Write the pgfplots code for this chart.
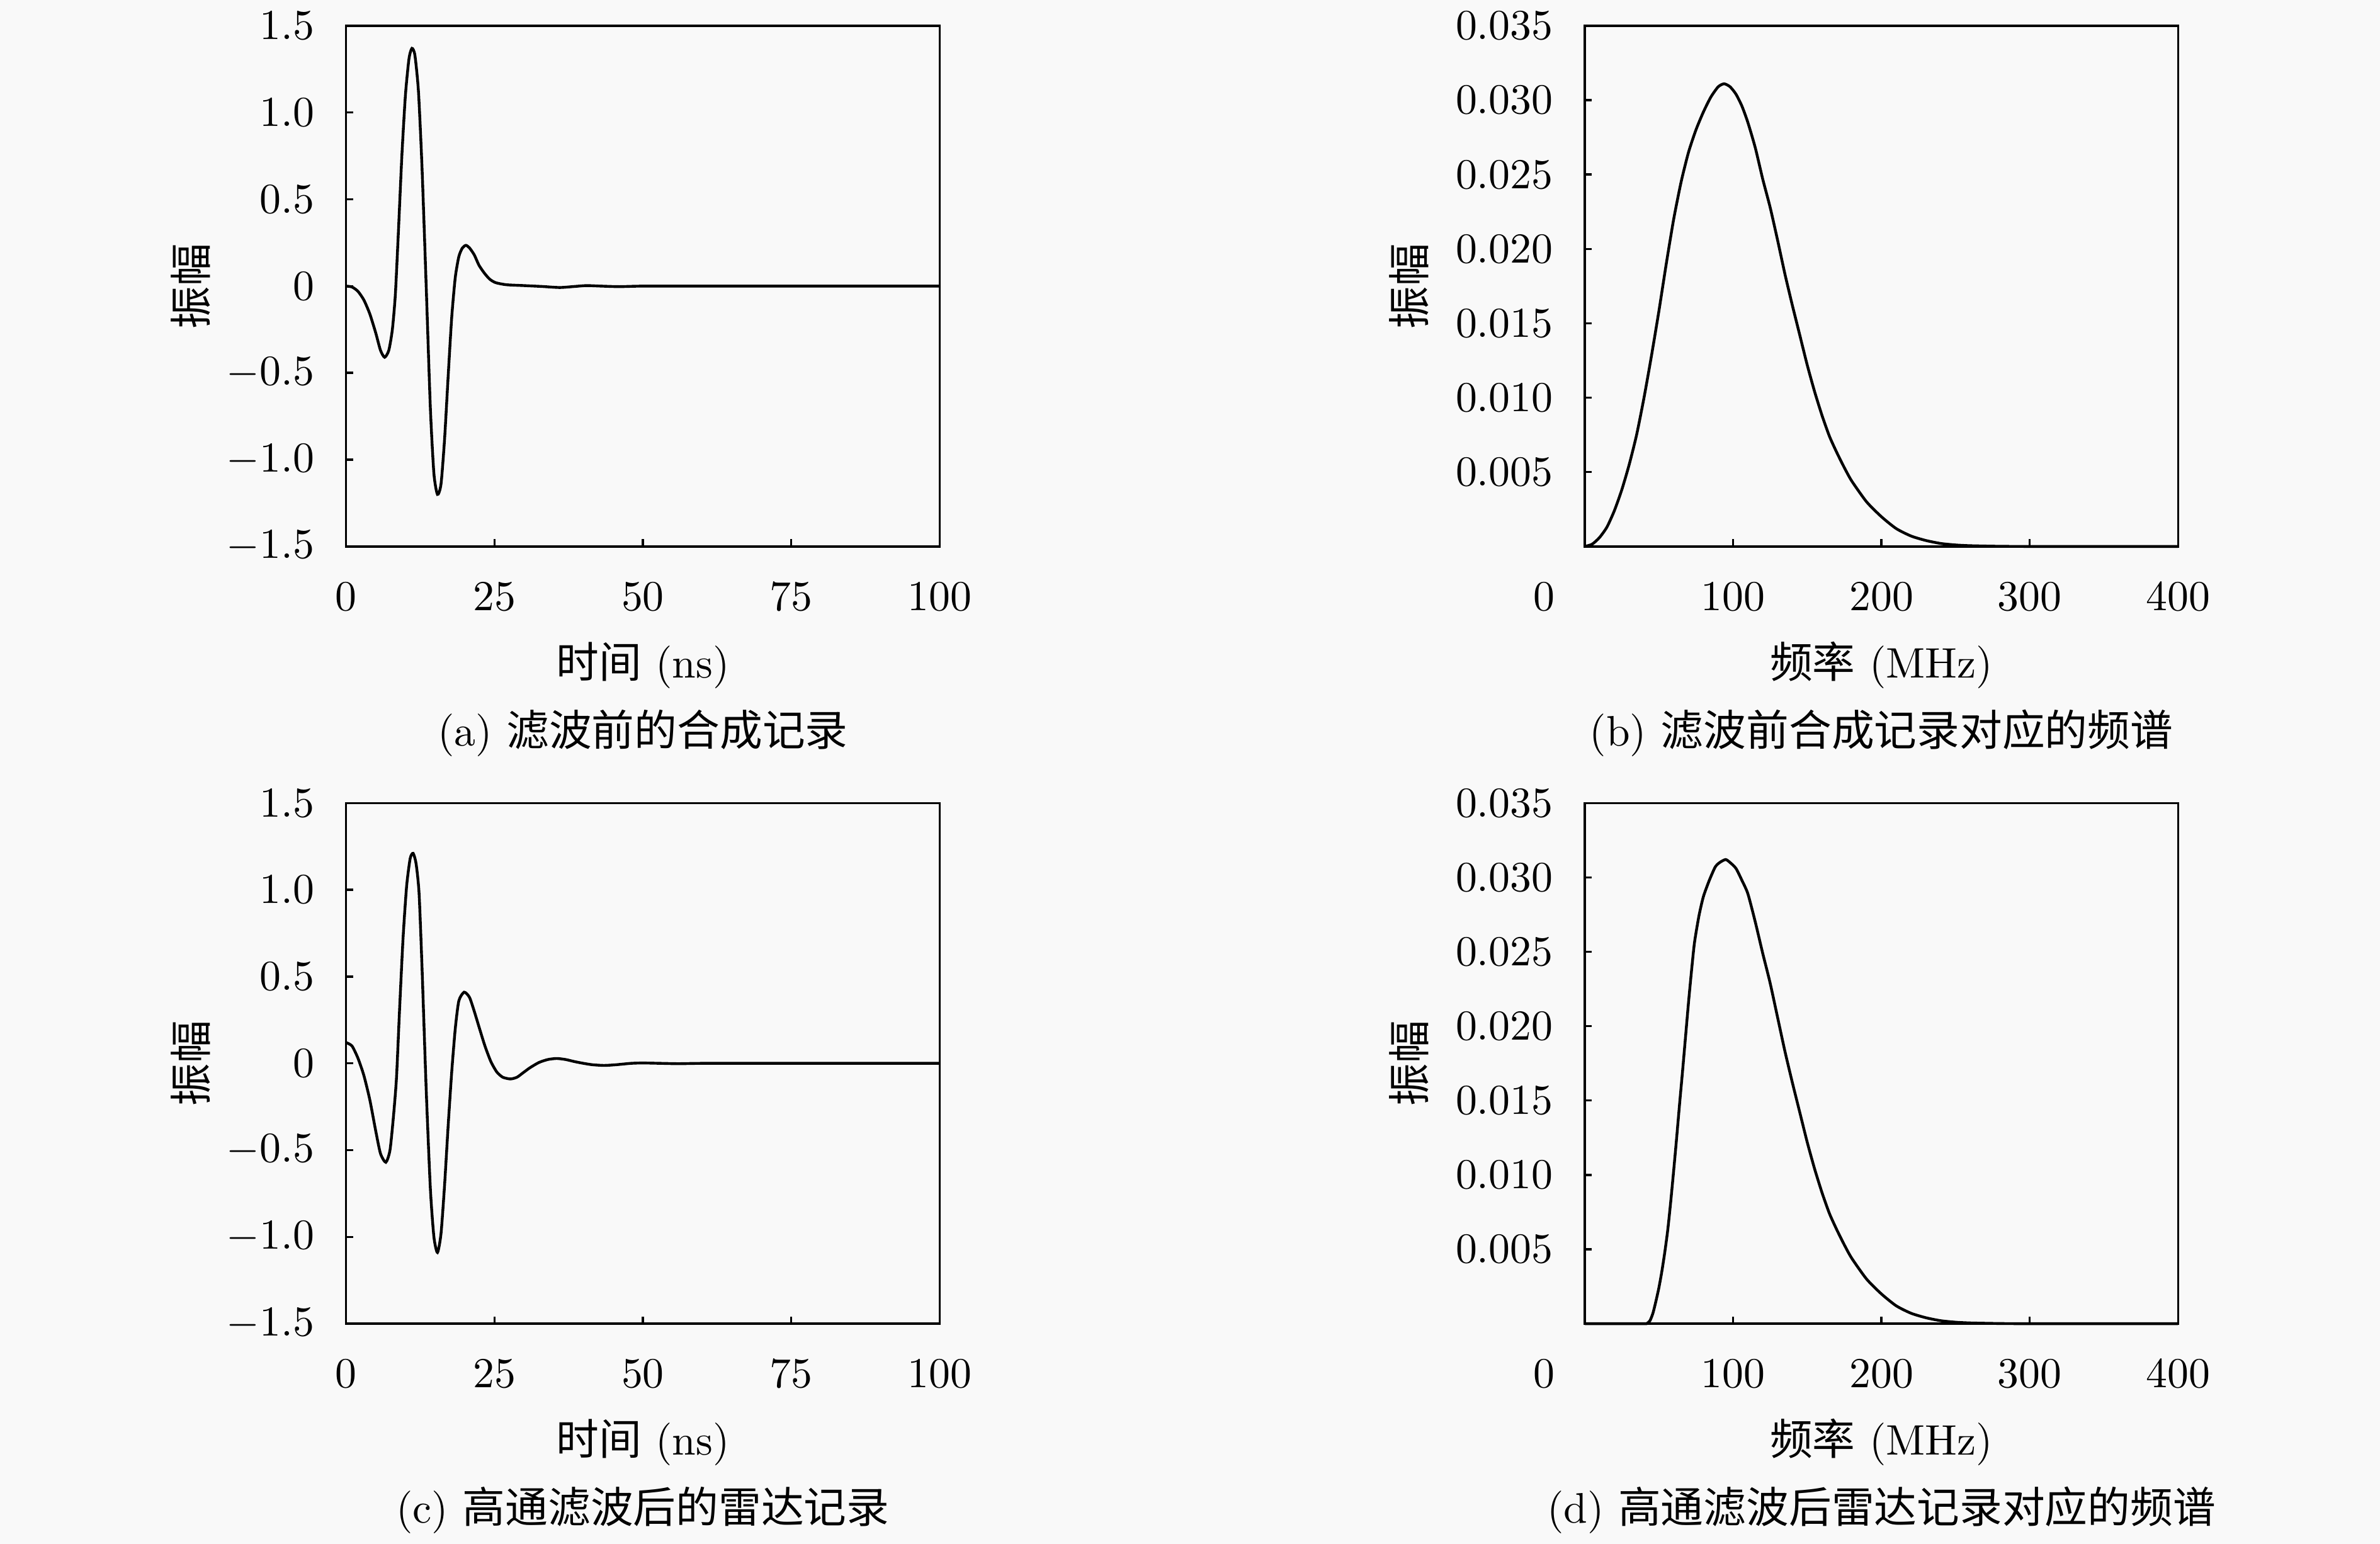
\documentclass[border=0pt]{standalone}
\usepackage{fontspec}
\usepackage{pgfplots}
\pgfplotsset{compat=1.18}
\newfontfamily\cjk{Noto Sans CJK SC}
\definecolor{bg}{RGB}{249,249,249}

\pgfplotsset{
  panel/.style={
    scale only axis, width=4.8875cm, height=4.2875cm,
    tick pos=left, tick align=inside, major tick length=1.7pt,
    axis line style={line width=0.5pt},
    every tick/.style={black, line width=0.5pt},
    clip=false,
    xticklabel style={yshift=-5pt},
    yticklabel style={xshift=-3.9pt},
    xlabel style={at={(axis description cs:0.5,-0.228)}, anchor=center},
    every axis plot post/.append style={black, line width=0.65pt, smooth, tension=0.4, mark=none},
  },
  timepanel/.style={panel,
    xmin=0, xmax=100, ymin=-1.5, ymax=1.5,
    xtick={0,25,50,75,100},
    ytick={-1.5,-1,-0.5,0,0.5,1,1.5},
    yticklabels={$-1.5$,$-1.0$,$-0.5$,$0$,$0.5$,$1.0$,$1.5$},
    xlabel={{\cjk 时间} (ns)}, ylabel={\cjk 振幅},
    ylabel style={at={(axis description cs:-0.262,0.5)}, anchor=center},
  },
  freqpanel/.style={panel,
    xmin=0, xmax=400, ymin=0, ymax=0.035,
    xtick={100,200,300,400},
    ytick={0.005,0.010,0.015,0.020,0.025,0.030,0.035},
    yticklabels={$0.005$,$0.010$,$0.015$,$0.020$,$0.025$,$0.030$,$0.035$},
    scaled y ticks=false,
    xlabel={{\cjk 频率} (MHz)}, ylabel={\cjk 振幅},
    ylabel style={at={(axis description cs:-0.2955,0.5)}, anchor=center},
  },
}

\begin{document}
\begin{tikzpicture}
\fill[bg] (0cm,0cm) rectangle (19.6cm,12.7125cm);

% (a) before filtering, time domain
\begin{axis}[timepanel, at={(2.85cm,8.2125cm)}, anchor=south west]
\addplot coordinates {
(0,0) (1,-0.005) (2,-0.03) (3,-0.08) (4,-0.16) (5,-0.27) (5.8,-0.37) (6.5,-0.41)
(7.2,-0.37) (7.8,-0.25) (8.3,-0.05) (8.8,0.30) (9.4,0.75) (10.0,1.10) (10.6,1.31)
(11.1,1.37) (11.6,1.33) (12.2,1.12) (12.8,0.68) (13.5,0.0) (14.2,-0.70) (14.8,-1.08)
(15.4,-1.20) (16.0,-1.14) (16.6,-0.88) (17.2,-0.52) (17.8,-0.18) (18.4,0.05) (19.0,0.17)
(19.6,0.22) (20.2,0.235) (20.8,0.22) (21.6,0.18) (22.4,0.12) (23.3,0.075) (24.2,0.04)
(25.2,0.02) (27,0.008) (30,0.003) (33,-0.002) (36,-0.008) (38.5,-0.002) (40.5,0.003)
(43,0) (46,-0.003) (50,0) (60,0) (70,0) (80,0) (90,0) (100,0)
};
\node at (axis description cs:0.5,-0.3586) {(a) {\cjk 滤波前的合成记录}};
\end{axis}

% (b) spectrum before filtering
\begin{axis}[freqpanel, at={(13.05cm,8.2125cm)}, anchor=south west]
\addplot coordinates {
(0,0) (5,0.00015) (10,0.0006) (15,0.0013) (20,0.0024) (25,0.0038) (30,0.0055)
(35,0.0075) (40,0.0100) (45,0.0128) (50,0.0158) (55,0.0190) (60,0.0220) (65,0.0245)
(70,0.0265) (75,0.0280) (80,0.0292) (85,0.0302) (90,0.0309) (94,0.0311) (98,0.0309)
(102,0.0304) (106,0.0296) (110,0.0285) (115,0.0268) (120,0.0247) (125,0.0228)
(130,0.0206) (135,0.0183) (140,0.0162) (145,0.0142) (150,0.0122) (155,0.0104)
(160,0.0088) (165,0.0074) (170,0.0063) (175,0.0053) (180,0.0044) (190,0.0030)
(200,0.0020) (210,0.0012) (220,0.0007) (230,0.0004) (240,0.0002) (250,0.0001)
(260,0.00005) (280,0.00001) (300,0) (350,0) (400,0)
};
\node[anchor=north, inner sep=0pt, yshift=-8.3pt] at (axis description cs:-0.0682,0) {$0$};
\node at (axis description cs:0.5,-0.3586) {(b) {\cjk 滤波前合成记录对应的频谱}};
\end{axis}

% (c) after high-pass filtering, time domain
\begin{axis}[timepanel, at={(2.85cm,1.8125cm)}, anchor=south west]
\addplot coordinates {
(0,0.12) (1,0.10) (2,0.03) (3,-0.07) (4,-0.21) (5,-0.39) (5.8,-0.52) (6.7,-0.57)
(7.4,-0.50) (8.0,-0.30) (8.5,-0.08) (9.0,0.30) (9.6,0.72) (10.2,1.02) (10.8,1.18)
(11.3,1.21) (11.8,1.15) (12.3,0.98) (12.8,0.55) (13.5,-0.15) (14.2,-0.72) (14.8,-1.00)
(15.4,-1.09) (16.0,-0.98) (16.6,-0.70) (17.2,-0.36) (17.8,-0.05) (18.4,0.20) (19.0,0.36)
(19.9,0.41) (20.8,0.38) (21.6,0.30) (22.4,0.21) (23.4,0.10) (24.4,0.01) (25.4,-0.05)
(26.4,-0.08) (27.7,-0.09) (28.8,-0.08) (29.8,-0.055) (31,-0.025) (32.5,0.005) (34,0.022)
(35.5,0.028) (37,0.022) (38.5,0.01) (40,0.0) (41.5,-0.008) (43.5,-0.012) (45.5,-0.008)
(48,0) (50,0.002) (53,0) (56,-0.002) (60,0) (70,0) (80,0) (90,0) (100,0)
};
\node at (axis description cs:0.5,-0.3586) {(c) {\cjk 高通滤波后的雷达记录}};
\end{axis}

% (d) spectrum after high-pass filtering
\begin{axis}[freqpanel, at={(13.05cm,1.8125cm)}, anchor=south west]
\addplot coordinates {
(0,0) (20,0) (40,0) (42,0.00002) (44,0.0002) (46,0.0007) (48,0.0015) (50,0.0024)
(52,0.0035) (54,0.0048) (56,0.0063) (58,0.0082) (60,0.0103) (62,0.0125) (64,0.0148)
(66,0.0170) (68,0.0193) (70,0.0216) (72,0.0237) (74,0.0256) (77,0.0274) (80,0.0287)
(84,0.0298) (88,0.0307) (91,0.0310) (95,0.0312) (98,0.0310) (102,0.0306) (106,0.0298)
(110,0.0289) (115,0.0270) (120,0.0249) (125,0.0229) (130,0.0206) (135,0.0183)
(140,0.0162) (145,0.0142) (150,0.0122) (155,0.0104) (160,0.0088) (165,0.0074)
(170,0.0063) (175,0.0053) (180,0.0044) (190,0.0030) (200,0.0020) (210,0.0012)
(220,0.0007) (230,0.0004) (240,0.0002) (250,0.0001) (260,0.00005) (280,0.00001)
(300,0) (350,0) (400,0)
};
\node[anchor=north, inner sep=0pt, yshift=-8.3pt] at (axis description cs:-0.0682,0) {$0$};
\node at (axis description cs:0.5,-0.3586) {(d) {\cjk 高通滤波后雷达记录对应的频谱}};
\end{axis}

\pgfresetboundingbox
\path[use as bounding box] (0cm,0cm) rectangle (19.6cm,12.7125cm);
\end{tikzpicture}
\end{document}
